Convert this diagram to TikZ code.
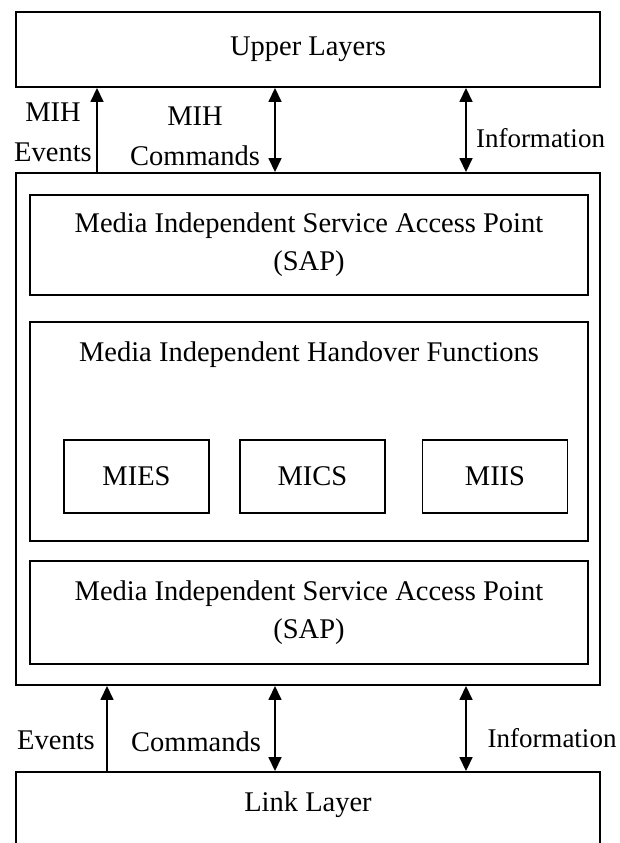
\documentclass[tikz,border=0pt]{standalone}
\usepackage{fontspec}
\setmainfont{Liberation Serif}
\usetikzlibrary{arrows.meta}

\tikzset{
  layerbox/.style={draw, line width=1.9pt, inner sep=0pt, align=center},
  lbl/.style={inner sep=0pt, align=center},
  flow/.style={line width=1.6pt, -{Triangle[length=14pt,width=13pt]}},
  twoway/.style={line width=1.6pt, {Triangle[length=14pt,width=13pt]}-{Triangle[length=14pt,width=13pt]}},
}

\begin{document}
\begin{tikzpicture}[x=1pt, y=1pt, font=\fontsize{28.5}{38}\selectfont]

\path[use as bounding box, clip] (0,0) rectangle (619,-843);

%upper and outer boxes
\node[layerbox, minimum width=584pt, minimum height=75pt] (upper) at (308,-49.5) {Upper Layers};
\node[layerbox, minimum width=584pt, minimum height=512pt] (mih) at (308,-429) {};

%service access points
\node[layerbox, minimum width=558pt, minimum height=100pt] (sapup) at (309,-245) {Media Independent Service Access Point\\(SAP)};
\node[layerbox, minimum width=558pt, minimum height=103pt] (saplow) at (309,-612.5) {Media Independent Service Access Point\\(SAP)};

%handover functions
\node[layerbox, minimum width=558pt, minimum height=219pt] (mihf) at (309,-431.5) {};
\node[lbl] (mihftitle) at (309,-355) {Media Independent Handover Functions};

\node[layerbox, minimum width=145pt, minimum height=73pt] (mies) at (136.5,-476.5) {MIES};
\node[layerbox, minimum width=145pt, minimum height=73pt] (mics) at (312.5,-476.5) {MICS};
\node[layerbox, minimum width=145pt, minimum height=73pt] (miis) at (495,-476.5) {MIIS};

%link layer (runs off the page)
\node[layerbox, minimum width=584pt, minimum height=128pt] (link) at (308,-836) {};
\node[lbl] (linktitle) at (308,-805) {Link Layer};

%x positions of the arrows
\coordinate (evup) at (97,0);
\coordinate (evlow) at (107,0);
\coordinate (cmd) at (275,0);
\coordinate (info) at (466,0);

%arrows (top)
\draw[flow] (mih.north -| evup) -- (upper.south -| evup);
\draw[twoway] (mih.north -| cmd) -- (upper.south -| cmd);
\draw[twoway] (mih.north -| info) -- (upper.south -| info);

%arrows (bottom)
\draw[flow] (link.north -| evlow) -- (mih.south -| evlow);
\draw[twoway] (link.north -| cmd) -- (mih.south -| cmd);
\draw[twoway] (link.north -| info) -- (mih.south -| info);

%names of arrows
\node[lbl, font=\fontsize{28.5}{40}\selectfont] (mihevents) at (53,-132) {MIH\\Events};
\node[lbl, font=\fontsize{28.5}{40}\selectfont] (mihcmds) at (195,-136.5) {MIH\\Commands};
\node[lbl, font=\fontsize{27}{36}\selectfont] (infoupper) at (540.5,-138) {Information};

\node[lbl] (eventslow) at (56,-740) {Events};
\node[lbl] (cmdslow) at (196,-742) {Commands};
\node[lbl, font=\fontsize{27}{36}\selectfont] (infolower) at (552,-738) {Information};

\end{tikzpicture}
\end{document}
